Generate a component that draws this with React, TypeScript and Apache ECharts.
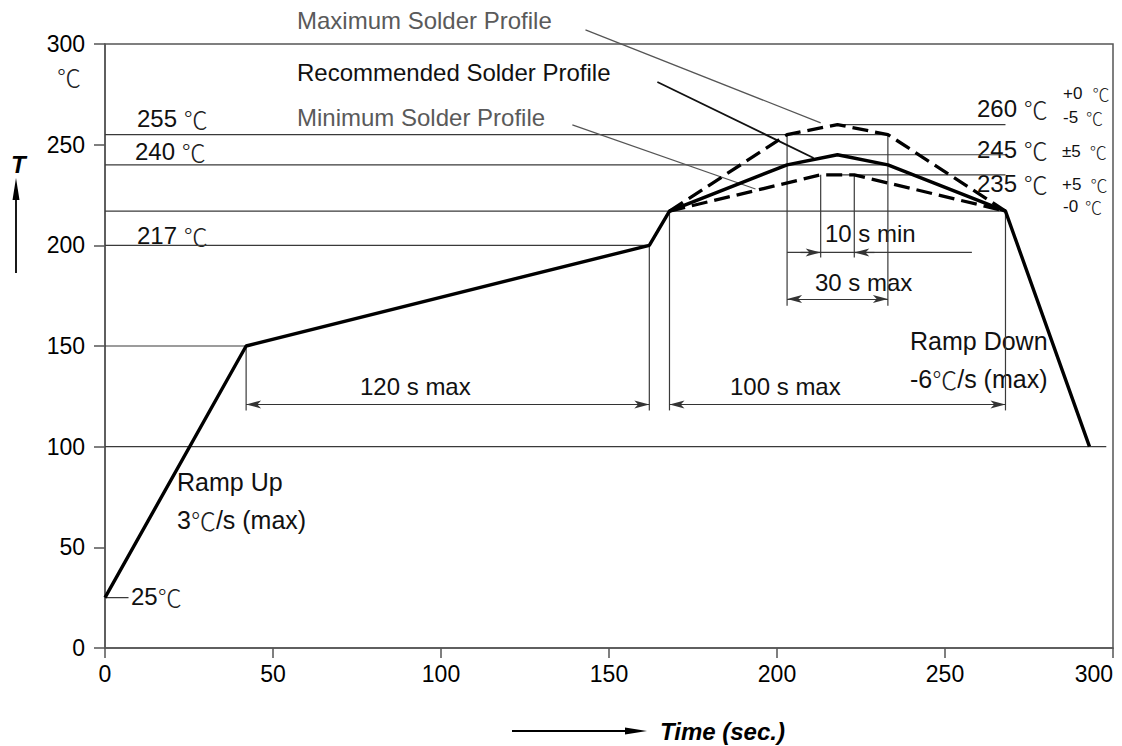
import React, { useEffect, useRef } from "react";
import * as echarts from "echarts";

// Axis ranges (time in s, temperature in °C)
const timeTicks = [0, 50, 100, 150, 200, 250, 300];
const tempTicks = [0, 50, 100, 150, 200, 250, 300];

// Reflow profiles: [time s, temperature °C]
const recommendedProfile = [
  [0, 25], [42, 150], [162, 200], [168, 217],
  [203, 240], [218, 245], [233, 240], [268, 217], [293, 100],
];
const maximumProfile = [[168, 217], [203, 255], [218, 260], [233, 255], [268, 217]];
const minimumProfile = [[168, 217], [213, 235], [223, 235], [268, 217]];

// Thin temperature level lines
const levelLines = [
  [[0, 255], [233, 255]],
  [[0, 240], [233, 240]],
  [[0, 217], [268, 217]],
  [[0, 200], [162, 200]],
  [[0, 150], [42, 150]],
  [[0, 100], [298, 100]],
  [[0, 25], [7, 25]],
  [[218, 260], [268, 260]],
  [[218, 245], [268, 245]],
  [[218, 235], [268, 235]],
];

// Extension lines for the dimension markers
const extensionLines = [
  [[42, 150], [42, 118]],
  [[162, 200], [162, 118]],
  [[168, 217], [168, 118]],
  [[268, 217], [268, 118]],
  [[203, 255], [203, 170]],
  [[233, 255], [233, 170]],
  [[213, 235], [213, 194]],
  [[223, 235], [223, 194]],
  [[203, 196.5], [258, 196.5]],
];

// Dimension arrows pointing outward at both ends
const spanDims = [
  [[42, 121], [162, 121]],
  [[168, 121], [268, 121]],
  [[203, 173.3], [233, 173.3]],
];
// Dimension arrows pointing inward (arrow at the second point)
const pinchDims = [
  [[207, 196.5], [213, 196.5]],
  [[229, 196.5], [223, 196.5]],
];

// Leader lines from the profile labels
const leaderMax = [[143, 307], [213, 260.8]];
const leaderRec = [[164.4, 281.1], [210.9, 243.4]];
const leaderMin = [[139.1, 259.8], [193.6, 228]];

const SANS = "'Liberation Sans', Arial, Helvetica, sans-serif";
const CJK = "'Noto Sans CJK SC', 'Noto Sans CJK JP', sans-serif";

function segments(segs: number[][][], lineStyle: any, clip = true) {
  return segs.map((seg) => ({
    type: "line",
    data: seg,
    symbol: "none",
    silent: true,
    clip,
    lineStyle,
    z: 2,
  }));
}

function label(x: number, y: number, text: string, size = 24, fill = "#111", gap = 0) {
  return {
    type: "text",
    x,
    y,
    silent: true,
    style: {
      text,
      fill,
      font: `${size}px ${SANS}`,
      verticalAlign: "middle",
      align: "left",
      rich: {
        c: {
          fontFamily: CJK,
          fontSize: size,
          fill: "#222",
          fontWeight: 300,
          padding: [0, 0, 0, gap],
        },
      },
    },
  };
}

export default function App() {
  const ref = useRef<HTMLDivElement>(null);

  useEffect(() => {
    if (!ref.current) return;
    const chart = echarts.init(ref.current, undefined, { renderer: "svg" });

    const thin = { color: "#3a3a3a", width: 1.2 };
    const option: any = {
      animation: false,
      backgroundColor: "#fff",
      grid: {
        left: 105,
        right: 9,
        top: 44,
        bottom: 98,
        containLabel: false,
        outerBoundsMode: "none",
        show: true,
        borderColor: "#555",
        borderWidth: 1.5,
      },
      xAxis: {
        type: "value",
        min: timeTicks[0],
        max: timeTicks[timeTicks.length - 1],
        interval: 50,
        axisLine: { show: true, lineStyle: { color: "#555", width: 1.5 } },
        axisTick: { show: true, length: 10, lineStyle: { color: "#555", width: 1.5 } },
        axisLabel: {
          color: "#000",
          fontSize: 23,
          fontFamily: SANS,
          margin: 14,
          showMaxLabel: true,
          showMinLabel: true,
          alignMaxLabel: "right",
        },
        splitLine: { show: false },
      },
      yAxis: {
        type: "value",
        min: tempTicks[0],
        max: tempTicks[tempTicks.length - 1],
        interval: 50,
        axisLine: { show: true, lineStyle: { color: "#555", width: 1.5 } },
        axisTick: { show: true, length: 11, lineStyle: { color: "#555", width: 1.5 } },
        axisLabel: { color: "#000", fontSize: 23, fontFamily: SANS, margin: 20 },
        splitLine: { show: false },
      },
      series: [
        ...segments(levelLines, thin),
        ...segments(extensionLines, thin),
        ...segments([leaderMax], { color: "#555", width: 1.2 }, false),
        ...segments([leaderRec], { color: "#111", width: 1.8 }, false),
        ...segments([leaderMin], { color: "#555", width: 1.2 }, false),
        {
          type: "line",
          data: [],
          silent: true,
          markLine: {
            silent: true,
            animation: false,
            symbol: ["arrow", "arrow"],
            symbolSize: [6, 15],
            label: { show: false },
            lineStyle: { color: "#333", width: 1.2, type: "solid" },
            data: spanDims.map((d) => [{ coord: d[0] }, { coord: d[1] }]),
          },
        },
        {
          type: "line",
          data: [],
          silent: true,
          markLine: {
            silent: true,
            animation: false,
            symbol: ["none", "arrow"],
            symbolSize: [6, 15],
            label: { show: false },
            lineStyle: { color: "#333", width: 1.2, type: "solid" },
            data: pinchDims.map((d) => [{ coord: d[0] }, { coord: d[1] }]),
          },
        },
        {
          name: "Maximum Solder Profile",
          type: "line",
          data: maximumProfile,
          symbol: "none",
          silent: true,
          z: 4,
          lineStyle: { color: "#000", width: 3.3, type: [16, 7] },
        },
        {
          name: "Minimum Solder Profile",
          type: "line",
          data: minimumProfile,
          symbol: "none",
          silent: true,
          z: 4,
          lineStyle: { color: "#000", width: 3.3, type: [16, 7] },
        },
        {
          name: "Recommended Solder Profile",
          type: "line",
          data: recommendedProfile,
          symbol: "none",
          silent: true,
          z: 5,
          lineStyle: { color: "#000", width: 3.4 },
        },
      ],
      graphic: [
        label(297, 20, "Maximum Solder Profile", 24, "#5a5a5a"),
        label(297, 72, "Recommended Solder Profile", 24, "#111"),
        label(297, 117, "Minimum Solder Profile", 24, "#5a5a5a"),
        label(57, 76, "{c|℃}", 24),
        label(137, 118, "255 {c|℃}", 24),
        label(135, 151, "240 {c|℃}", 24),
        label(137, 235, "217 {c|℃}", 24),
        label(977, 108, "260 {c|℃}", 24),
        label(1063, 93, "+0{c|℃}", 17, "#111", 10),
        label(1063, 117, "-5{c|℃}", 17, "#111", 8),
        label(977, 149, "245 {c|℃}", 24),
        label(1062, 151, "±5{c|℃}", 17, "#111", 9),
        label(977, 183, "235 {c|℃}", 24),
        label(1062, 184, "+5{c|℃}", 17, "#111", 9),
        label(1063, 206, "-0{c|℃}", 17, "#111", 7),
        label(825, 233, "10 s min", 24),
        label(815, 282, "30 s max", 24),
        label(360, 386, "120 s max", 24),
        label(730, 386, "100 s max", 24),
        label(177, 482, "Ramp Up", 25),
        label(177, 520, "3{c|℃}/s (max)", 25),
        label(910, 341, "Ramp Down", 25),
        label(910, 379, "-6{c|℃}/s (max)", 25),
        label(131, 596, "25{c|℃}", 24),
        {
          type: "text",
          x: 11,
          y: 164,
          silent: true,
          style: { text: "T", fill: "#000", font: `italic bold 24px ${SANS}`, verticalAlign: "middle" },
        },
        {
          type: "line",
          silent: true,
          shape: { x1: 16, y1: 273, x2: 16, y2: 192 },
          style: { stroke: "#000", lineWidth: 1.8 },
        },
        {
          type: "polygon",
          silent: true,
          shape: { points: [[16, 178], [12.5, 200], [19.5, 200]] },
          style: { fill: "#000" },
        },
        {
          type: "text",
          x: 660,
          y: 731,
          silent: true,
          style: { text: "Time (sec.)", fill: "#000", font: `italic bold 24px ${SANS}`, verticalAlign: "middle" },
        },
        {
          type: "line",
          silent: true,
          shape: { x1: 512, y1: 731, x2: 632, y2: 731 },
          style: { stroke: "#000", lineWidth: 1.8 },
        },
        {
          type: "polygon",
          silent: true,
          shape: { points: [[647, 731], [625, 727.5], [625, 734.5]] },
          style: { fill: "#000" },
        },
      ],
    };

    chart.setOption(option);
    return () => chart.dispose();
  }, []);

  return (
    <div
      ref={ref}
      style={{ position: "absolute", left: 0, top: 0, width: 1122, height: 746, background: "#fff" }}
    />
  );
}
